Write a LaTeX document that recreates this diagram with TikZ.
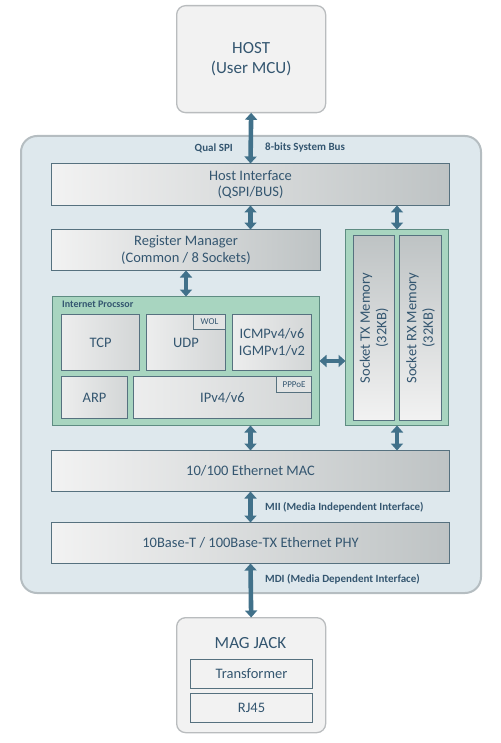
\documentclass[tikz,border=0pt]{standalone}
\usepackage{fontspec}
\setmainfont{Carlito}
\usetikzlibrary{arrows.meta}
\definecolor{tc}{HTML}{345670}
\definecolor{ac}{HTML}{41718A}
\definecolor{bc}{HTML}{56717F}
\definecolor{g1}{HTML}{F2F2F2}
\definecolor{g2}{HTML}{BEC3C4}
\definecolor{outerfill}{HTML}{DEE8ED}
\definecolor{outerdraw}{HTML}{B5BDC1}
\definecolor{hostfill}{HTML}{F2F2F2}
\definecolor{hostdraw}{HTML}{B9BCBE}
\definecolor{greenfill}{HTML}{A8D5C0}
\definecolor{greendraw}{HTML}{5E8C82}
\begin{document}
\begin{tikzpicture}[x=1pt,y=-1pt,
  every node/.style={text=tc},
  hostbox/.style={draw=hostdraw, line width=1.3pt, fill=hostfill, rounded corners=9pt, anchor=north west, inner sep=0pt},
  gbox/.style={draw=bc, line width=1pt, left color=g1, right color=g2, anchor=north west, inner sep=0pt, align=center, font=\fontsize{14.5}{16.5}\selectfont},
  vbox/.style={draw=bc, line width=1pt, top color=g2, bottom color=g1, anchor=north west, inner sep=0pt},
  ibox/.style={draw=bc, line width=1pt, left color=g1!90!g2, right color=g2!60!g1, anchor=north west, inner sep=0pt, align=center, font=\fontsize{14.5}{16.5}\selectfont},
  tagbox/.style={draw=bc, line width=0.9pt, fill=g1!70!g2, anchor=north east, inner sep=0pt, font=\fontsize{9}{10}\selectfont},
  greenbox/.style={draw=greendraw, line width=1pt, fill=greenfill, anchor=north west, inner sep=0pt},
  plainbox/.style={draw=bc, line width=1pt, anchor=north west, inner sep=0pt},
  lbl/.style={font=\bfseries\fontsize{11}{12}\selectfont, anchor=west, inner sep=0pt},
  bus/.style={line width=4.6pt, draw=ac, {Triangle[width=12pt,length=7pt]}-{Triangle[width=12pt,length=7pt]}, shorten <=-0.5pt, shorten >=-0.5pt}
]
\useasboundingbox (0,0) rectangle (500,743);
% outer chip
\node[draw=outerdraw, line width=2pt, fill=outerfill, rounded corners=16pt, anchor=north west, inner sep=0pt, minimum width=460, minimum height=457] (chip) at (20,135) {};
% host
\node[hostbox, minimum width=149, minimum height=107] (host) at (176,5) {};
\node[align=center, font=\fontsize{17}{20}\selectfont] (hosttxt) at (host.center) {HOST\\(User MCU)};
% host interface
\node[gbox, minimum width=398, minimum height=42] (hi) at (51,163) {Host Interface\\(QSPI/BUS)};
% register manager
\node[gbox, minimum width=269, minimum height=41] (rm) at (51,229) {Register Manager\\(Common / 8 Sockets)};
% internet processor
\node[greenbox, minimum width=267, minimum height=129] (ip) at (52,296) {};
\node[lbl, font=\bfseries\fontsize{10}{11}\selectfont] (iptitle) at (62,304) {Internet Procssor};
\node[ibox, minimum width=78, minimum height=56] (tcp) at (61,314) {TCP};
\node[ibox, minimum width=79, minimum height=56] (udp) at (146,314) {UDP};
\node[tagbox, minimum width=32, minimum height=15] (wol) at (udp.north east) {WOL};
\node[ibox, minimum width=79, minimum height=56] (icmp) at (232,314) {ICMPv4/v6\\IGMPv1/v2};
\node[ibox, minimum width=66, minimum height=42] (arp) at (61,376) {ARP};
\node[ibox, minimum width=178, minimum height=42] (ipv) at (133,376) {IPv4/v6};
\node[tagbox, minimum width=35, minimum height=16] (pppoe) at (ipv.north east) {PPPoE};
% socket memory
\node[greenbox, minimum width=103, minimum height=196] (mem) at (345,229) {};
\node[vbox, minimum width=41, minimum height=185] (tx) at (353,235) {};
\node[vbox, minimum width=42, minimum height=185] (rx) at (399,235) {};
\node[rotate=90, align=center, font=\fontsize{14.5}{16.5}\selectfont] (txt1) at (tx.center) {Socket TX Memory\\(32KB)};
\node[rotate=90, align=center, font=\fontsize{14.5}{16.5}\selectfont] (txt2) at (rx.center) {Socket RX Memory\\(32KB)};
% MAC and PHY
\node[gbox, minimum width=398, minimum height=41] (mac) at (51,450) {10/100 Ethernet MAC};
\node[gbox, minimum width=398, minimum height=41] (phy) at (51,522) {10Base-T / 100Base-TX Ethernet PHY};
% MAG JACK
\node[hostbox, minimum width=149, minimum height=115] (mag) at (176,617) {};
\node[font=\fontsize{17}{18}\selectfont] (magtxt) at (250.5,643) {MAG JACK};
\node[plainbox, minimum width=122, minimum height=29] (trf) at (190,659) {};
\node[font=\fontsize{14.5}{16}\selectfont] (trftxt) at (trf.center) {Transformer};
\node[plainbox, minimum width=122, minimum height=29] (rj) at (190,693) {};
\node[font=\fontsize{14.5}{16}\selectfont] (rjtxt) at (rj.center) {RJ45};
% buses
\draw[bus] (host.south) -- (hi.north);
\draw[bus] (hi.south) -- (hi.south |- rm.north);
\draw[bus] (hi.south -| mem.north) -- (mem.north);
\draw[bus] (rm.south) -- (ip.north);
\draw[bus] (ip.east) -- (ip.east -| mem.west);
\draw[bus] (ip.south -| mac.north) -- (mac.north);
\draw[bus] (mem.south) -- (mac.north -| mem.south);
\draw[bus] (mac.south) -- (phy.north);
\draw[bus] (phy.south) -- (mag.north);
% labels
\node[lbl, anchor=east] (l1) at (233,148) {Qual SPI};
\node[lbl] (l2) at (265,148) {8-bits System Bus};
\node[lbl] (l3) at (265,507) {MII (Media Independent Interface)};
\node[lbl] (l4) at (265,579) {MDI (Media Dependent Interface)};
\end{tikzpicture}
\end{document}
